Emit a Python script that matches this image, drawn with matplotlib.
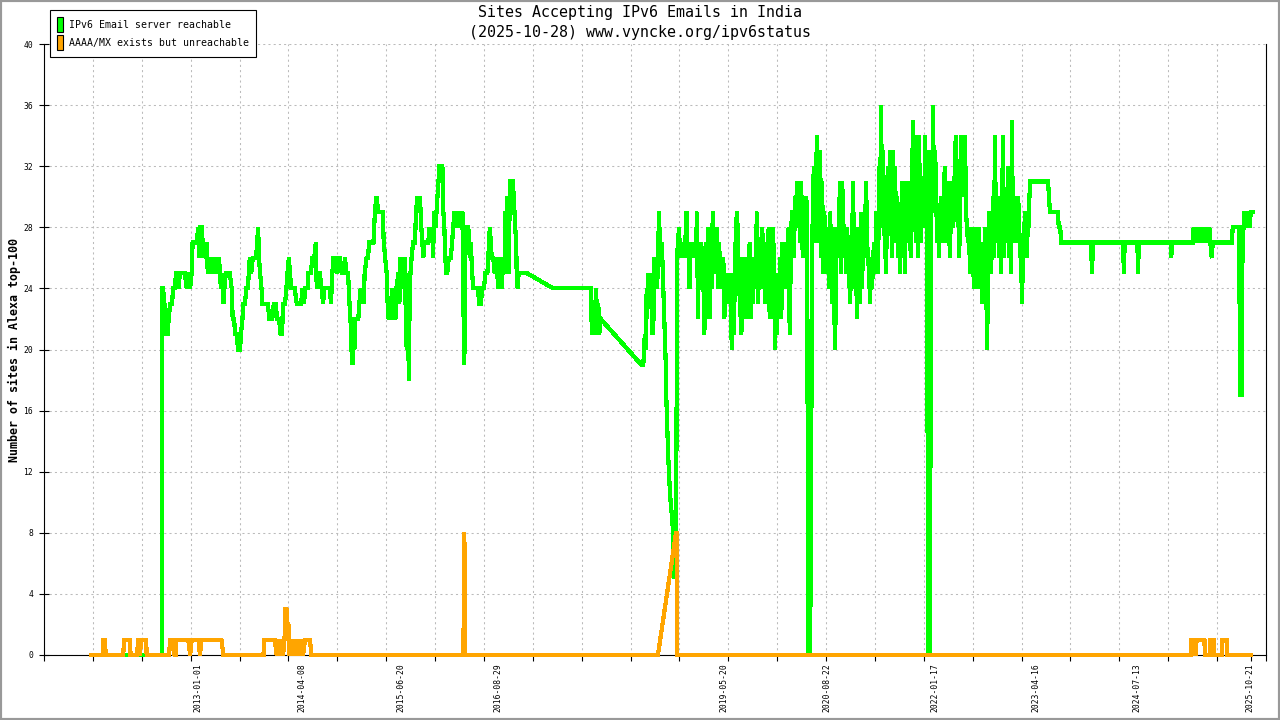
import numpy as np
import matplotlib
matplotlib.use("Agg")
import matplotlib.pyplot as plt
from matplotlib.patches import Patch, Rectangle

# ---------------- text ----------------
title_line1 = "Sites Accepting IPv6 Emails in India"
title_line2 = "(2025-10-28) www.vyncke.org/ipv6status"
y_label = "Number of sites in Alexa top-100"
legend_labels = ["IPv6 Email server reachable", "AAAA/MX exists but unreachable"]

# x axis: sample scale 0..250 (major tick every 10 samples)
date_labels = ["2013-01-01", "2014-04-08", "2015-06-20", "2016-08-29", "2019-05-20",
               "2020-08-22", "2022-01-17", "2023-04-16", "2024-07-13", "2025-10-21"]
date_label_pos = [31.5, 52.8, 73.0, 92.8, 139.1, 160.1, 182.2, 202.9, 223.5, 246.8]
y_ticks = [0, 4, 8, 12, 16, 20, 24, 28, 32, 36, 40]

# ---------------- green series: IPv6 reachable ----------------
green_early = [
    (9.7, 0), (24.1, 0), (24.2, 24), (24.4, 24), (24.6, 22), (24.8, 23), (25.0, 21), (25.3, 21),
    (25.5, 22), (25.8, 23), (26.2, 23), (26.4, 24), (26.8, 24), (27.0, 25), (27.3, 25), (27.5, 24),
    (27.8, 25), (28.2, 25), (28.8, 25), (29.2, 24), (29.5, 25), (29.9, 24), (30.2, 25), (30.4, 27),
    (30.9, 27), (31.2, 27), (31.6, 28), (31.8, 26), (32.0, 28), (32.3, 28), (32.6, 26), (32.8, 27),
    (33.1, 26), (33.3, 27), (33.5, 25), (33.7, 26), (34.1, 25), (34.4, 26), (34.7, 25), (35.2, 26),
    (35.5, 25), (35.8, 26), (36.0, 25), (36.2, 24), (36.5, 25), (36.7, 23), (36.9, 24), (37.2, 25),
    (37.5, 25), (38.0, 25), (38.4, 24), (38.6, 22), (38.9, 22), (39.1, 21), (39.4, 21), (39.7, 20),
    (40.1, 20), (40.3, 21), (40.6, 22), (40.8, 23), (41.1, 23), (41.4, 24), (41.7, 24), (41.9, 25),
    (42.1, 26), (42.4, 25), (42.7, 26), (43.0, 26), (43.4, 26), (43.6, 27), (43.8, 28), (44.0, 26),
    (44.2, 25), (44.5, 24), (44.7, 23), (45.2, 23), (45.8, 23), (46.1, 22), (46.4, 22), (46.7, 22),
    (47.0, 23), (47.4, 23), (47.7, 22), (48.1, 22), (48.4, 21), (48.7, 21), (48.9, 23), (49.3, 23),
    (49.6, 24), (49.8, 25), (50.1, 26), (50.3, 25), (50.6, 24), (51.0, 24), (51.3, 24), (51.7, 23),
    (52.2, 23),
]
green_mid = [
    (52.6, 23), (52.9, 24), (53.2, 23), (53.4, 24), (53.9, 24), (54.1, 25), (54.6, 25), (54.9, 26),
    (55.3, 26), (55.6, 27), (55.8, 24), (56.1, 25), (56.4, 25), (56.8, 24), (57.1, 23), (57.3, 24),
    (57.8, 24), (58.5, 24), (58.7, 23), (59.0, 25), (59.2, 26), (59.5, 26), (59.9, 25), (60.2, 26),
    (60.5, 26), (60.9, 25), (61.2, 25), (61.6, 26), (61.8, 25), (62.2, 25), (62.5, 23), (62.7, 22),
    (62.9, 20), (63.1, 19), (63.3, 21), (63.5, 20), (63.6, 22), (63.9, 22), (64.3, 22), (64.5, 23),
    (64.8, 24), (65.0, 23), (65.2, 24), (65.4, 23), (65.6, 25), (66.0, 26), (66.3, 26), (66.5, 27),
    (66.8, 27), (67.4, 27), (67.7, 29), (68.0, 30), (68.4, 29), (68.7, 29), (69.3, 29), (69.5, 27),
    (69.8, 26), (70.1, 25), (70.3, 23), (70.5, 22), (70.8, 23), (71.0, 22), (71.2, 24), (71.4, 23),
    (71.6, 23), (71.9, 22), (72.1, 24), (72.5, 25), (72.7, 23), (72.9, 26), (73.2, 24), (73.5, 26),
    (73.7, 25), (73.9, 26), (74.0, 22), (74.2, 20), (74.4, 25), (74.6, 19), (74.7, 18), (74.8, 25),
    (75.0, 25), (75.2, 26), (75.5, 27), (75.9, 27), (76.1, 29), (76.4, 30), (76.6, 29), (76.9, 30),
    (77.2, 28), (77.4, 27), (77.6, 26), (77.8, 27), (78.0, 27), (78.6, 27), (78.9, 28), (79.1, 27),
    (79.4, 28), (79.6, 26), (79.8, 29), (80.1, 28), (80.3, 29), (80.5, 30), (80.7, 31), (80.9, 32),
    (81.2, 32), (81.5, 32), (81.7, 29), (81.9, 28), (82.1, 26), (82.3, 25), (82.5, 25), (82.8, 26),
    (83.2, 26), (83.5, 27), (83.7, 28), (84.0, 29), (84.3, 28), (84.5, 29), (84.8, 28), (85.1, 29),
    (85.3, 28), (85.6, 29), (85.8, 23), (86.0, 19), (86.1, 28), (86.4, 28), (86.8, 28), (87.1, 26),
    (87.3, 27), (87.6, 25), (87.8, 24), (88.1, 24), (88.8, 24), (89.0, 23), (89.4, 23), (89.6, 24),
    (90.0, 24), (90.3, 25), (90.7, 25), (90.9, 26), (91.2, 28), (91.4, 27), (91.6, 26), (91.9, 26),
    (92.2, 25), (92.6, 26), (92.9, 24), (93.3, 26), (93.6, 24), (94.0, 26), (94.2, 25), (94.4, 29),
    (94.6, 27), (94.8, 30), (95.1, 25), (95.3, 31), (95.6, 31), (95.9, 31), (96.1, 30), (96.4, 28),
    (96.6, 27), (96.7, 25), (96.9, 24), (97.1, 25), (97.4, 25), (98.8, 25), (104.2, 24),
]
green_gap = [
    (111.9, 24), (112.0, 22), (112.2, 21), (112.5, 22), (112.7, 21), (112.9, 24), (113.2, 22),
    (113.4, 23), (113.6, 21), (113.9, 22), (122.2, 19), (122.6, 19), (122.8, 20), (122.9, 21),
    (123.1, 20), (123.3, 24), (123.4, 22), (123.6, 25), (123.8, 23), (123.9, 24), (124.1, 25),
    (124.3, 24), (124.5, 21), (124.7, 22), (124.9, 26), (125.1, 25), (125.3, 24), (125.6, 25),
    (125.8, 29), (126.0, 27), (126.2, 26), (126.4, 27), (126.6, 25), (126.8, 23), (127.0, 21),
    (127.2, 19), (127.3, 17), (127.5, 15), (127.7, 13), (128.0, 11), (128.2, 10), (128.5, 9),
    (128.7, 8), (128.9, 6), (129.0, 5), (129.2, 8), (129.4, 14), (129.5, 26),
]
# dense daily readings, evenly spaced samples
green_dense1_span = (129.7, 154.5)
green_dense1 = [
    27, 28, 26, 27, 26, 27, 26, 27, 29, 26, 27, 24, 27, 26, 27, 26, 27, 26, 29, 22, 27, 24, 27, 26,
    25, 21, 25, 27, 26, 28, 22, 26, 24, 29, 26, 27, 25, 28, 24, 27, 25, 26, 24, 26, 22, 25, 23, 25,
    24, 23, 25, 20, 24, 21, 25, 28, 29, 27, 24, 23, 21, 22, 26, 23, 26, 22, 26, 24, 27, 22, 26, 23,
    26, 24, 27, 29, 23, 26, 24, 27, 28, 24, 26, 23, 27, 24, 28, 22, 27, 25, 28, 26, 20, 24, 21, 25,
    23, 26, 22, 27, 25, 26, 24, 27, 26, 28, 21, 26, 29, 29, 26, 30, 29, 31, 28, 30,
]
green_dense2_span = (154.7, 201.5)
green_dense2 = [
    27, 31, 27, 26, 28, 26, 30, 29, 0, 0, 0, 13, 26, 31, 32, 27, 32, 34, 27, 31, 33, 26, 31, 25,
    29, 28, 26, 25, 28, 24, 29, 26, 23, 28, 23, 20, 26, 28, 26, 29, 31, 25, 31, 29, 26, 28, 25, 28,
    26, 25, 23, 26, 27, 31, 24, 28, 25, 22, 27, 28, 23, 29, 24, 28, 26, 28, 31, 27, 26, 25, 23, 26,
    24, 26, 27, 25, 29, 27, 25, 32, 29, 36, 28, 33, 28, 27, 25, 30, 32, 28, 33, 29, 26, 33, 29, 32,
    27, 30, 26, 29, 25, 28, 31, 26, 29, 25, 31, 27, 29, 31, 27, 26, 31, 35, 28, 31, 27, 34, 26, 34,
    29, 27, 31, 29, 28, 34, 30, 33, 0, 0, 0, 33, 29, 36, 29, 33, 31, 27, 29, 26, 29, 30, 28, 27,
    31, 32, 29, 27, 31, 28, 26, 30, 31, 28, 29, 33, 34, 30, 31, 26, 28, 34, 31, 34, 30, 34, 29, 28,
    27, 28, 25, 27, 28, 26, 24, 28, 24, 27, 25, 28, 24, 27, 23, 26, 24, 28, 27, 20, 24, 29, 28, 25,
    27, 30, 26, 34, 27, 29, 30, 26, 28, 25, 28, 34, 26, 29, 27, 28, 32, 26, 32, 25, 35, 27, 29, 28,
    30, 27, 30, 29, 26, 27, 23, 26, 27, 29, 28, 26, 29, 28,
]
green_late = [
    (201.6, 30), (201.8, 31), (205.4, 31), (205.6, 30), (205.8, 29), (207.4, 29), (207.6, 28),
    (207.9, 28), (208.1, 27), (214.2, 27), (214.4, 25), (214.6, 27), (220.8, 27), (220.9, 25),
    (221.1, 27), (223.7, 27), (223.8, 25), (224.0, 27), (230.5, 27), (230.6, 26), (230.8, 27),
    (235.0, 27), (235.2, 28), (235.4, 27), (235.6, 28), (235.8, 27), (236.0, 28), (236.2, 27),
    (236.4, 28), (236.6, 27), (236.8, 28), (237.0, 27), (237.2, 28), (237.4, 27), (237.6, 28),
    (237.8, 27), (238.0, 28), (238.2, 27), (238.4, 28), (238.6, 27), (238.9, 26), (239.1, 27),
    (243.0, 27), (243.2, 28), (244.4, 28), (244.6, 23), (244.8, 17), (245.0, 17), (245.2, 27),
    (245.4, 28), (245.6, 29), (245.9, 28), (246.3, 29), (246.6, 28), (246.9, 29), (247.3, 29),
]

# ---------------- orange series: AAAA/MX but unreachable ----------------
orange_pts = [
    (9.7, 0), (12.0, 0), (12.1, 1), (12.5, 1), (12.6, 0), (16.2, 0), (16.4, 1), (17.6, 1),
    (17.7, 0), (19.1, 0), (19.2, 1), (19.5, 1), (19.6, 0), (19.9, 1), (20.9, 1), (21.0, 0),
    (25.6, 0), (25.8, 1), (26.4, 1), (26.7, 0), (27.0, 0), (27.1, 1), (29.5, 1), (29.9, 0),
    (30.2, 1), (31.6, 1), (31.9, 0), (32.2, 1), (36.3, 1), (36.7, 0), (44.9, 0), (45.1, 1),
    (47.2, 1), (47.6, 0), (47.9, 1), (48.3, 0), (48.6, 1), (48.9, 0), (49.2, 1), (49.4, 3),
    (49.6, 3), (49.8, 2), (50.0, 2), (50.2, 0), (50.5, 1), (50.9, 0), (51.2, 1), (51.5, 0),
    (52.0, 1), (52.4, 0), (52.7, 1), (53.0, 0), (53.4, 1), (54.4, 1), (54.7, 0), (85.8, 0),
    (86.0, 8), (86.1, 0), (125.6, 0), (129.3, 8), (129.4, 8), (129.5, 0), (234.6, 0), (234.7, 1),
    (235.0, 1), (235.1, 0), (235.2, 1), (235.5, 1), (235.6, 0), (235.8, 1), (237.4, 1), (237.5, 0),
    (238.5, 0), (238.6, 1), (239.3, 1), (239.4, 0), (241.0, 0), (241.1, 1), (242.0, 1), (242.1, 0),
    (247.0, 0),
]

# ---------------- assemble ----------------
def split(pts):
    xs, ys = zip(*pts)
    return np.array(xs, float), np.array(ys, float)

gx_parts, gy_parts = [], []
for part in (green_early, green_mid, green_gap):
    x, y = split(part)
    gx_parts.append(x); gy_parts.append(y)
for span, vals in ((green_dense1_span, green_dense1), (green_dense2_span, green_dense2)):
    gx_parts.append(np.linspace(span[0], span[1], len(vals)))
    gy_parts.append(np.array(vals, float))
x, y = split(green_late)
gx_parts.append(x); gy_parts.append(y)
green_x = np.concatenate(gx_parts)
green_y = np.concatenate(gy_parts)
orange_x, orange_y = split(orange_pts)

GREEN = "#00FF00"
ORANGE = "#FFA500"
MONO = "DejaVu Sans Mono"

fig = plt.figure(figsize=(12.8, 7.2), dpi=100)
ax = fig.add_axes([44 / 1280, 65 / 720, 1222 / 1280, 611 / 720])

ax.plot(green_x, green_y, color=GREEN, lw=2.3, zorder=3, clip_on=False,
        solid_joinstyle="miter", antialiased=False)
ax.plot(orange_x, orange_y, color=ORANGE, lw=2.3, zorder=4, clip_on=False,
        solid_joinstyle="miter", antialiased=False)

ax.set_xlim(0, 250)
ax.set_ylim(0, 40)
ax.set_yticks(y_ticks)
ax.set_yticklabels([str(t) for t in y_ticks], fontsize=5.8, family=MONO)
ax.set_xticks(np.arange(0, 251, 10))
ax.set_xticks([247], minor=True)
ax.set_xticklabels([])
ax.tick_params(axis="x", which="both", direction="out", length=4.3, width=0.8, color="black")
ax.tick_params(axis="y", direction="inout", length=6.5, width=0.8, pad=4.5, color="black")

for lab, pos in zip(date_labels, date_label_pos):
    ax.annotate(lab, xy=(pos, 0), xycoords=("data", "axes fraction"),
                xytext=(0, -6), textcoords="offset points", rotation=90,
                ha="center", va="top", fontsize=5.8, family=MONO)

ax.grid(True, which="major", color="#bbbbbb", lw=0.75, linestyle=(0, (2, 3)), zorder=0)
ax.set_axisbelow(True)
for s in ("left", "bottom", "right"):
    ax.spines[s].set_color("black")
    ax.spines[s].set_linewidth(0.8)
ax.spines["top"].set_visible(False)

fig.text(0.5, 1 - 13 / 720, title_line1, ha="center", va="center", fontsize=10.8, family=MONO)
fig.text(0.5, 1 - 32 / 720, title_line2, ha="center", va="center", fontsize=10.8, family=MONO)
fig.text(14 / 1280, 1 - 350 / 720, y_label, rotation=90, ha="center", va="center",
         fontsize=8.4, family=MONO, fontweight="bold")

handles = [Patch(facecolor=GREEN, edgecolor="black", lw=0.8),
           Patch(facecolor=ORANGE, edgecolor="black", lw=0.8)]
leg = fig.legend(handles, legend_labels, loc="upper left",
                 bbox_to_anchor=(50 / 1280, 1 - 10 / 720), bbox_transform=fig.transFigure,
                 prop={"family": MONO, "size": 7.1}, frameon=True, fancybox=False,
                 framealpha=1, edgecolor="black", handlelength=0.6, handleheight=2.0,
                 handletextpad=0.6, borderpad=0.7, labelspacing=0.3, borderaxespad=0)
leg.get_frame().set_linewidth(0.8)

fig.patches.append(Rectangle((0, 0), 1, 1, transform=fig.transFigure, fill=False,
                             edgecolor="#999999", lw=3, zorder=10))

fig.savefig("out.png", dpi=100)
